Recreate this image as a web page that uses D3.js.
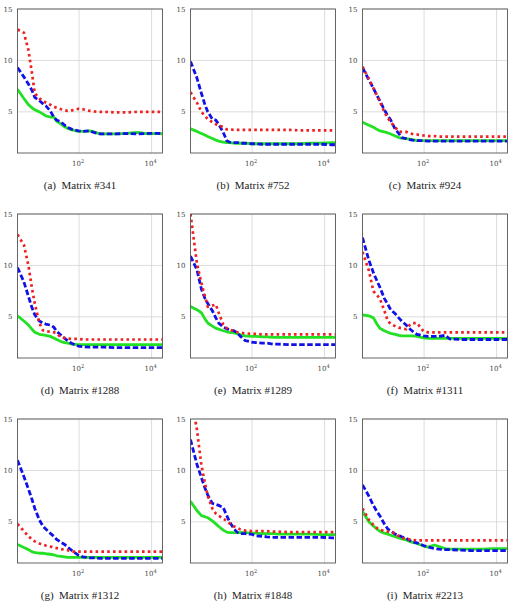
<!DOCTYPE html>
<html>
<head>
<meta charset="utf-8">
<script src="https://cdn.jsdelivr.net/npm/d3@7"></script>
<style>
    body { margin: 0; background: #fff; }
    svg { display: block; }
</style>
</head>
<body>
<svg id="chart" width="515" height="604"></svg>
<script>
(function () {
    'use strict';

    // iterations (x, log axis)
    var iters = [2, 3, 4, 5, 6, 8, 10, 12, 16, 20, 24, 32, 40, 48, 64, 96, 128, 192, 256, 384, 512, 1024, 2048, 4096, 8192, 16384, 20000];

    var yTicks = [5, 10, 15];
    var xTicks = [100, 10000];
    var xTickExp = ["2", "4"];

    var captions = ["(a)", "(b)", "(c)", "(d)", "(e)", "(f)", "(g)", "(h)", "(i)"];
    var matrixIds = ["#341", "#752", "#924", "#1288", "#1289", "#1311", "#1312", "#1848", "#2213"];

    // red dotted
    var redA = [13.0, 12.7, 11.0, 8.8, 6.8, 6.3, 6.1, 5.9, 5.7, 5.5, 5.4, 5.25, 5.15, 5.1, 5.15, 5.3, 5.25, 5.1, 5.05, 5.0, 5.0, 4.95, 4.95, 5.0, 5.0, 5.0, 4.95];
    var redB = [6.9, 5.9, 5.0, 4.6, 4.3, 4.0, 3.8, 3.7, 3.5, 3.3, 3.3, 3.25, 3.25, 3.25, 3.25, 3.25, 3.25, 3.25, 3.25, 3.25, 3.25, 3.25, 3.2, 3.2, 3.2, 3.2, 3.2];
    var redC = [9.4, 8.2, 7.3, 6.6, 6.0, 5.0, 4.4, 4.0, 3.5, 3.1, 3.05, 3.05, 2.9, 2.85, 2.8, 2.7, 2.65, 2.65, 2.6, 2.6, 2.6, 2.6, 2.6, 2.6, 2.6, 2.6, 2.6];
    var redD = [13.0, 12.0, 10.0, 7.8, 6.3, 4.4, 3.7, 3.6, 3.55, 3.5, 3.4, 3.0, 2.95, 2.9, 2.85, 2.85, 2.8, 2.8, 2.8, 2.8, 2.8, 2.8, 2.8, 2.8, 2.8, 2.8, 2.8];
    var redE = [15.0, 10.2, 8.3, 7.0, 6.0, 6.1, 6.2, 5.4, 4.25, 3.9, 3.75, 3.6, 3.5, 3.45, 3.4, 3.35, 3.35, 3.3, 3.3, 3.3, 3.3, 3.3, 3.3, 3.3, 3.3, 3.3, 3.3];
    var redF = [11.3, 9.5, 7.5, 7.1, 6.8, 5.6, 4.6, 4.3, 4.1, 3.95, 3.9, 3.8, 4.2, 4.4, 4.4, 3.6, 3.5, 3.5, 3.5, 3.5, 3.5, 3.5, 3.5, 3.5, 3.5, 3.5, 3.5];
    var redG = [4.8, 4.1, 3.6, 3.3, 3.1, 2.9, 2.8, 2.7, 2.6, 2.5, 2.45, 2.35, 2.3, 2.25, 2.1, 2.1, 2.1, 2.1, 2.1, 2.1, 2.1, 2.1, 2.1, 2.1, 2.1, 2.1, 2.1];
    var redH = [17.5, 14.0, 10.5, 8.8, 7.5, 6.3, 5.8, 5.6, 5.3, 5.1, 4.85, 4.55, 4.4, 4.25, 4.15, 4.1, 4.1, 4.1, 4.1, 4.05, 4.05, 4.0, 4.0, 4.0, 4.0, 4.0, 4.0];
    var redI = [6.3, 5.2, 4.7, 4.4, 4.25, 4.1, 4.05, 4.0, 3.9, 3.6, 3.45, 3.35, 3.3, 3.25, 3.2, 3.2, 3.2, 3.2, 3.2, 3.2, 3.2, 3.2, 3.2, 3.2, 3.2, 3.2, 3.2];

    // blue dashed
    var blueA = [9.3, 8.4, 7.7, 7.1, 6.4, 6.1, 5.8, 5.6, 5.1, 4.5, 4.2, 4.0, 3.7, 3.5, 3.3, 3.15, 3.1, 3.15, 3.0, 2.85, 2.85, 2.85, 2.9, 2.85, 2.9, 2.9, 2.85];
    var blueB = [9.9, 8.3, 6.8, 5.7, 5.0, 4.3, 4.2, 3.8, 3.0, 2.2, 2.05, 2.0, 2.0, 1.95, 1.95, 1.9, 1.9, 1.85, 1.85, 1.85, 1.85, 1.85, 1.85, 1.85, 1.85, 1.8, 1.8];
    var blueC = [9.3, 8.1, 7.3, 6.6, 6.1, 5.2, 4.6, 4.2, 3.3, 2.9, 2.5, 2.4, 2.3, 2.25, 2.2, 2.2, 2.15, 2.15, 2.15, 2.15, 2.15, 2.15, 2.15, 2.15, 2.15, 2.15, 2.15];
    var blueD = [9.8, 8.4, 7.0, 5.9, 5.2, 4.6, 4.4, 4.3, 4.2, 4.0, 3.6, 3.2, 2.9, 2.7, 2.4, 2.15, 2.1, 2.05, 2.05, 2.05, 2.05, 2.0, 2.0, 2.0, 2.0, 2.0, 2.0];
    var blueE = [10.9, 9.6, 7.7, 6.8, 6.3, 5.6, 4.9, 4.4, 4.0, 3.85, 3.7, 3.65, 3.4, 3.1, 2.7, 2.55, 2.5, 2.45, 2.45, 2.35, 2.35, 2.3, 2.3, 2.3, 2.3, 2.3, 2.3];
    var blueF = [12.7, 10.5, 9.3, 8.5, 7.9, 6.8, 6.2, 5.7, 5.3, 4.9, 4.6, 4.2, 3.85, 3.6, 3.3, 3.15, 3.1, 3.1, 3.1, 3.2, 2.85, 2.8, 2.8, 2.8, 2.8, 2.8, 2.8];
    var blueG = [11.0, 9.4, 8.2, 7.2, 6.3, 5.2, 4.6, 4.3, 3.9, 3.6, 3.3, 3.0, 2.8, 2.55, 2.2, 1.75, 1.6, 1.5, 1.5, 1.45, 1.45, 1.45, 1.45, 1.45, 1.45, 1.45, 1.45];
    var blueH = [13.0, 10.6, 9.3, 8.3, 7.6, 6.8, 6.7, 6.6, 6.4, 5.6, 5.0, 4.3, 3.95, 3.85, 3.85, 3.8, 3.65, 3.6, 3.55, 3.5, 3.5, 3.5, 3.5, 3.5, 3.5, 3.45, 3.45];
    var blueI = [8.6, 7.5, 6.6, 6.0, 5.6, 4.8, 4.3, 4.1, 3.8, 3.7, 3.55, 3.4, 3.2, 3.05, 2.95, 2.7, 2.55, 2.4, 2.35, 2.3, 2.3, 2.25, 2.2, 2.2, 2.2, 2.2, 2.2];

    // green solid
    var greenA = [7.2, 6.3, 5.7, 5.4, 5.2, 5.0, 4.8, 4.6, 4.5, 4.5, 4.1, 3.8, 3.55, 3.4, 3.25, 3.1, 3.1, 3.15, 3.05, 2.85, 2.85, 2.85, 2.9, 3.0, 2.85, 2.9, 2.85];
    var greenB = [3.35, 3.1, 2.9, 2.75, 2.6, 2.4, 2.25, 2.15, 2.05, 2.0, 2.0, 1.95, 1.95, 1.95, 1.95, 1.9, 1.9, 1.9, 1.9, 1.9, 1.9, 1.9, 1.9, 1.95, 1.95, 2.0, 2.0];
    var greenC = [4.0, 3.7, 3.5, 3.3, 3.15, 3.05, 2.95, 2.85, 2.65, 2.5, 2.45, 2.4, 2.35, 2.3, 2.2, 2.2, 2.2, 2.2, 2.2, 2.2, 2.2, 2.2, 2.2, 2.2, 2.2, 2.2, 2.2];
    var greenD = [5.1, 4.6, 4.2, 3.8, 3.5, 3.3, 3.25, 3.2, 3.1, 2.95, 2.8, 2.6, 2.5, 2.45, 2.35, 2.3, 2.3, 2.3, 2.3, 2.3, 2.3, 2.3, 2.3, 2.3, 2.3, 2.3, 2.3];
    var greenE = [6.0, 5.7, 5.4, 4.8, 4.4, 4.1, 3.9, 3.8, 3.65, 3.55, 3.5, 3.45, 3.35, 3.25, 3.15, 3.1, 3.1, 3.05, 3.05, 3.0, 3.0, 3.0, 3.0, 3.0, 3.0, 3.0, 3.0];
    var greenF = [5.2, 5.1, 4.9, 4.3, 3.9, 3.65, 3.5, 3.4, 3.3, 3.2, 3.15, 3.15, 3.15, 3.15, 3.1, 2.95, 2.9, 2.9, 2.9, 2.9, 2.9, 2.9, 2.9, 2.9, 2.9, 2.9, 2.9];
    var greenG = [2.8, 2.5, 2.3, 2.1, 2.0, 1.95, 1.95, 1.9, 1.85, 1.8, 1.7, 1.65, 1.6, 1.55, 1.55, 1.55, 1.55, 1.55, 1.55, 1.55, 1.55, 1.55, 1.55, 1.55, 1.55, 1.55, 1.55];
    var greenH = [7.0, 6.1, 5.6, 5.5, 5.4, 5.1, 4.8, 4.55, 4.2, 4.0, 3.95, 3.95, 3.95, 3.95, 3.95, 3.9, 3.9, 3.85, 3.85, 3.85, 3.8, 3.8, 3.8, 3.8, 3.75, 3.75, 3.75];
    var greenI = [6.0, 5.0, 4.6, 4.3, 4.1, 3.9, 3.8, 3.7, 3.55, 3.45, 3.35, 3.25, 3.1, 3.0, 2.9, 2.65, 2.55, 2.75, 2.6, 2.4, 2.35, 2.35, 2.35, 2.35, 2.4, 2.4, 2.4];

    var reds = [redA, redB, redC, redD, redE, redF, redG, redH, redI];
    var blues = [blueA, blueB, blueC, blueD, blueE, blueF, blueG, blueH, blueI];
    var greens = [greenA, greenB, greenC, greenD, greenE, greenF, greenG, greenH, greenI];

    var colLeft = [17.5, 190.5, 362.5],
        rowTop = [9, 214, 419],
        w = 145,
        h = 144;

    var x = d3.scaleLog().domain([2, 20000]).range([0, w]);
    var y = d3.scaleLinear().domain([1, 15]).range([h, 0]);

    var svg = d3.select("#chart");

    var line = d3.line()
        .x(function (d, i) { return x(iters[i]); })
        .y(function (d) { return y(d); });

    captions.forEach(function (cap, k) {
        var col = k % 3, row = Math.floor(k / 3);
        var g = svg.append("g")
            .attr("transform", "translate(" + colLeft[col] + "," + rowTop[row] + ")");

        g.append("clipPath").attr("id", "clip" + k)
            .append("rect").attr("width", w).attr("height", h);

        // grid
        g.selectAll(".gx").data(xTicks).enter().append("line")
            .attr("x1", function (d) { return x(d); })
            .attr("x2", function (d) { return x(d); })
            .attr("y1", 0).attr("y2", h)
            .style("stroke", "#d4d4d4").style("stroke-width", 0.8);
        g.selectAll(".gy").data(yTicks).enter().append("line")
            .attr("y1", function (d) { return y(d); })
            .attr("y2", function (d) { return y(d); })
            .attr("x1", 0).attr("x2", w)
            .style("stroke", "#d4d4d4").style("stroke-width", 0.8);

        // tick labels
        g.selectAll(".ty").data(yTicks).enter().append("text")
            .attr("x", -5)
            .attr("y", function (d) { return y(d) + 2.5; })
            .attr("text-anchor", "end")
            .style("font-family", "'DejaVu Serif', serif")
            .style("font-size", "7px")
            .style("fill", "#444")
            .text(function (d) { return d; });

        var tx = g.selectAll(".tx").data(xTicks).enter().append("text")
            .attr("x", function (d) { return x(d) - 1; })
            .attr("y", h + 13)
            .attr("text-anchor", "middle")
            .style("font-family", "'DejaVu Serif', serif")
            .style("font-size", "7px")
            .style("fill", "#444");
        tx.append("tspan").text("10");
        tx.append("tspan")
            .attr("dy", -3)
            .style("font-size", "5.2px")
            .text(function (d, i) { return xTickExp[i]; });

        var plot = g.append("g").attr("clip-path", "url(#clip" + k + ")");

        plot.append("path").datum(greens[k])
            .attr("d", line)
            .style("fill", "none")
            .style("stroke", "#22e022")
            .style("stroke-width", 2.8)
            .style("stroke-linejoin", "round");

        plot.append("path").datum(blues[k])
            .attr("d", line)
            .style("fill", "none")
            .style("stroke", "#1010e8")
            .style("stroke-width", 2.8)
            .style("stroke-dasharray", "5.5 2.5");

        plot.append("path").datum(reds[k])
            .attr("d", line)
            .style("fill", "none")
            .style("stroke", "#ee2020")
            .style("stroke-width", 2.7)
            .style("stroke-dasharray", "2.6 3.2");

        // frame
        g.append("rect")
            .attr("width", w).attr("height", h)
            .style("fill", "none")
            .style("stroke", "#555")
            .style("stroke-width", 0.9);

        g.append("text")
            .attr("x", 62.5)
            .attr("y", h + 36)
            .attr("text-anchor", "middle")
            .style("font-family", "'Liberation Serif', 'Times New Roman', serif")
            .style("font-size", "11px")
            .style("fill", "#222")
            .text(cap + "\u00a0\u00a0Matrix " + matrixIds[k]);
    });
})();
</script>
</body>
</html>
